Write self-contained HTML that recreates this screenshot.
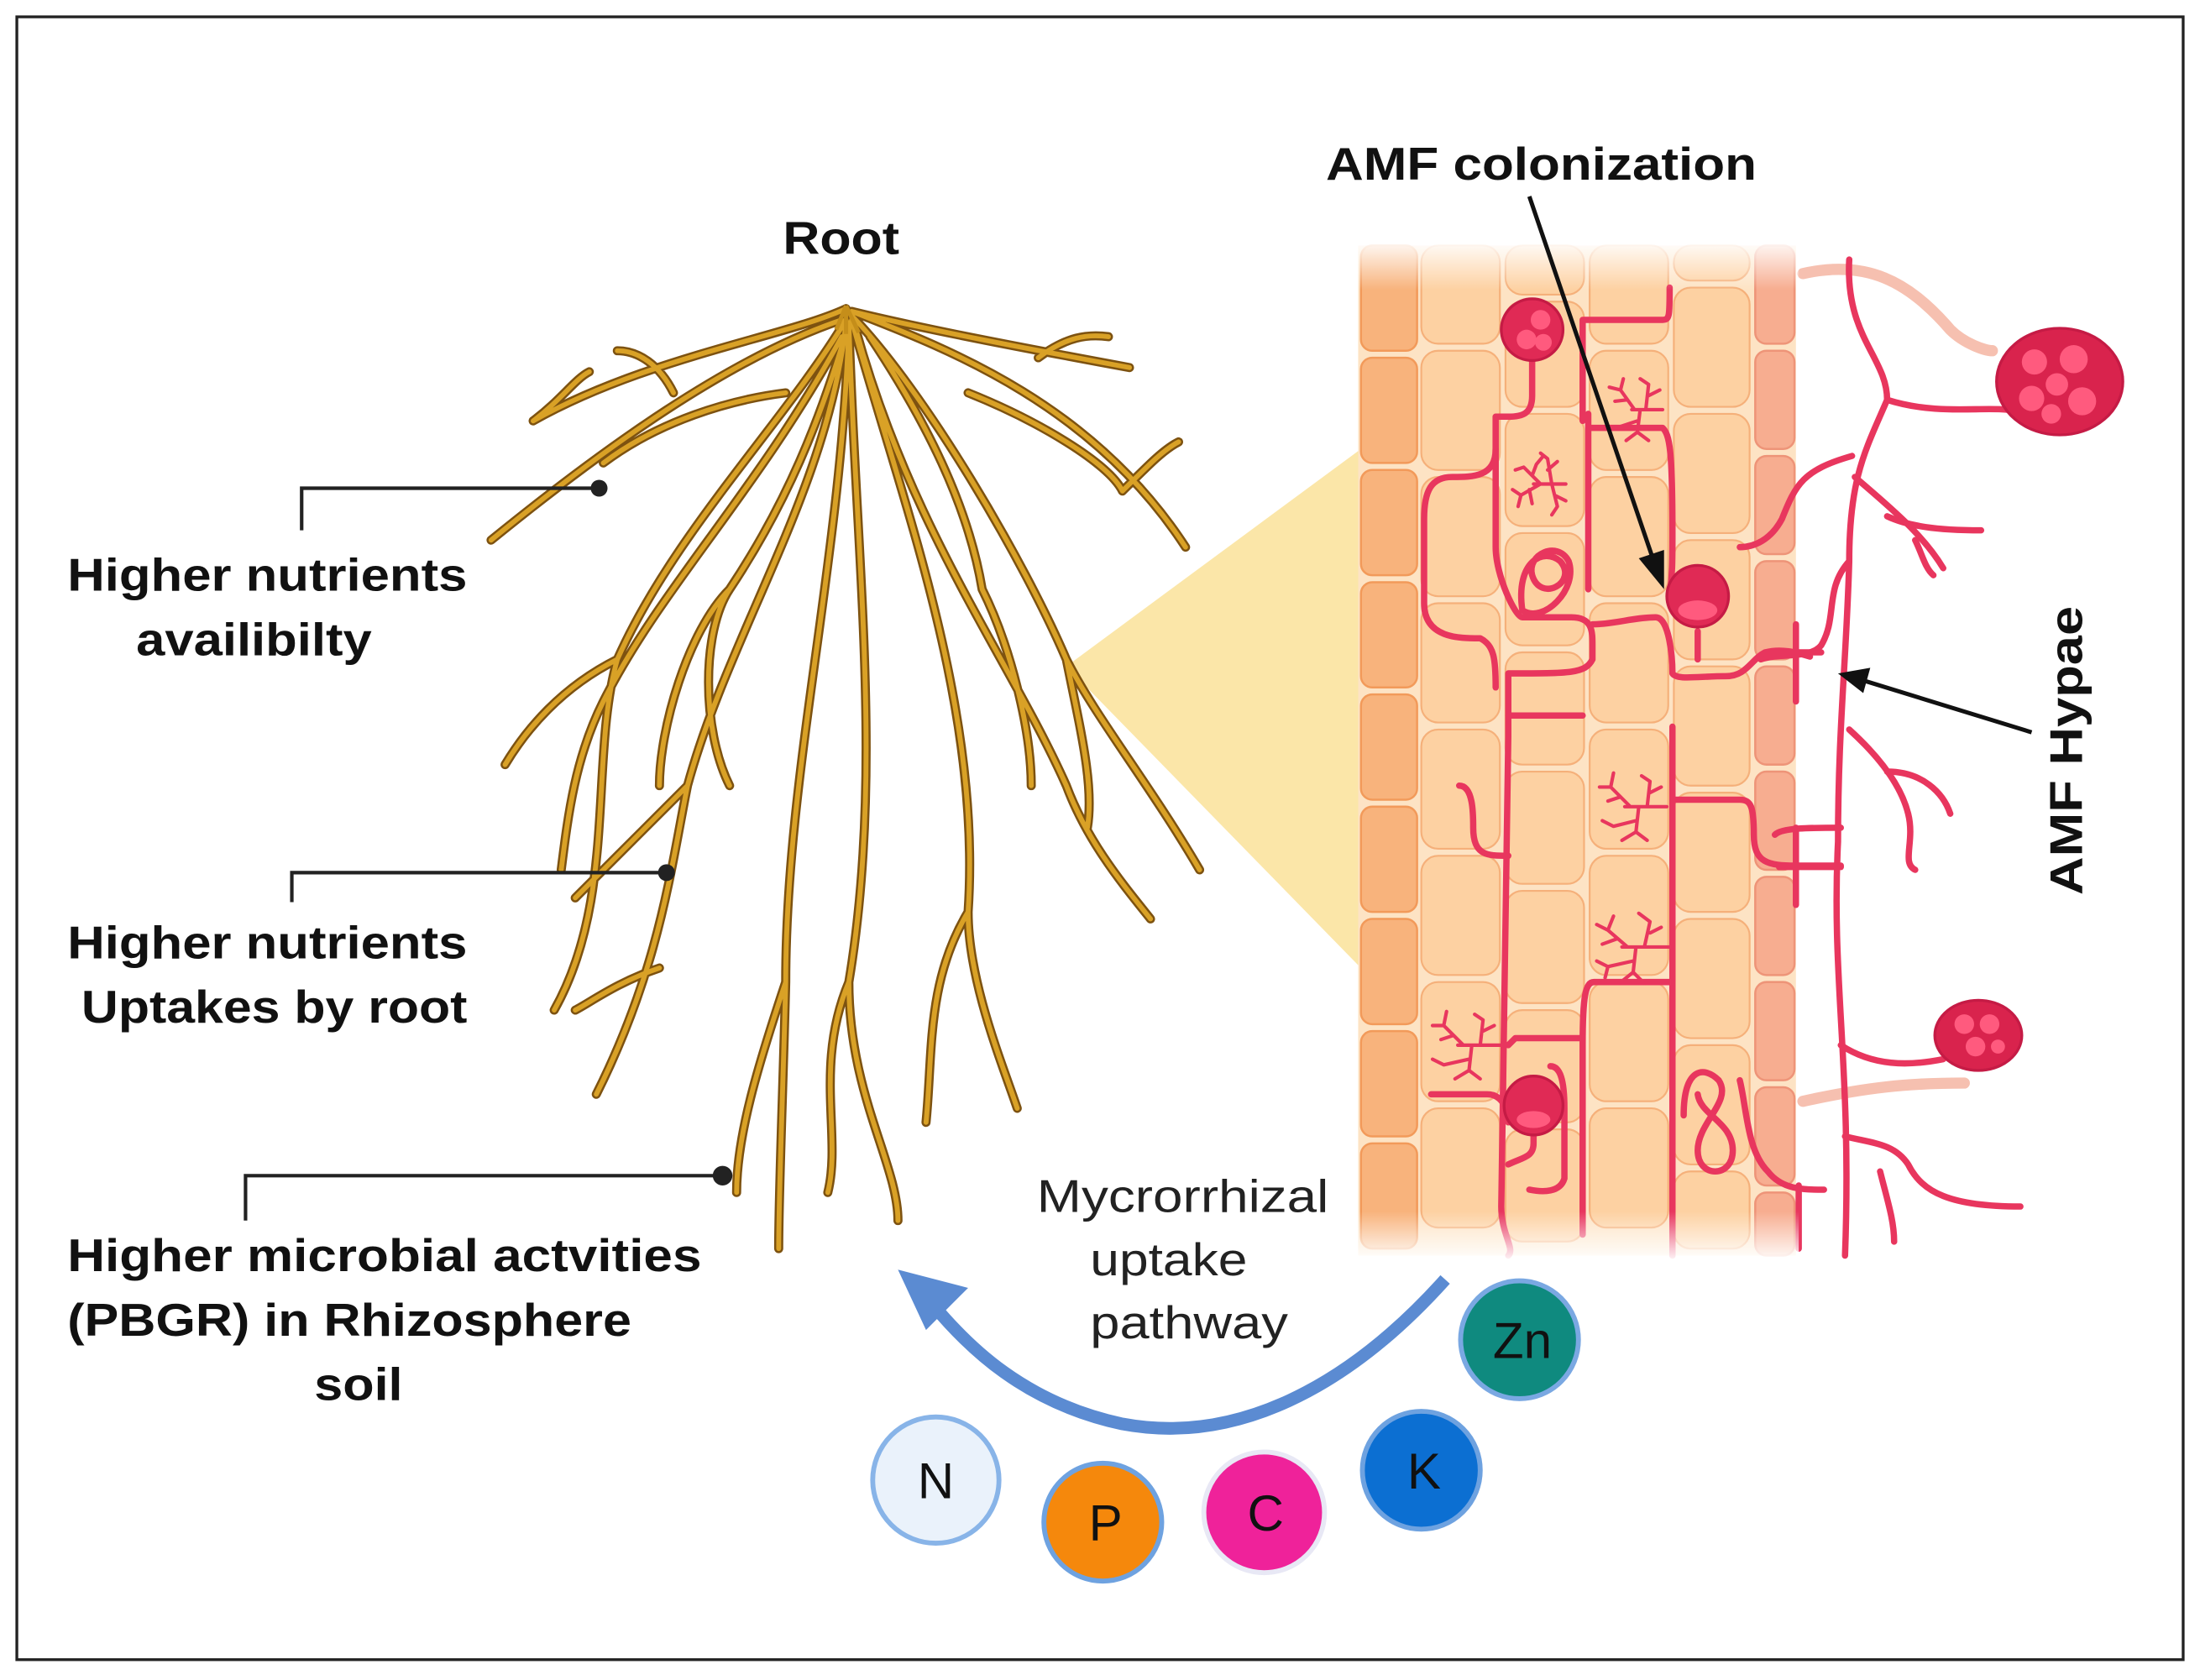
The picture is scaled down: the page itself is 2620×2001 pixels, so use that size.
<!DOCTYPE html>
<html><head><meta charset="utf-8"><style>
html,body{margin:0;padding:0;background:#fff;}
svg{display:block;}
text{font-family:"Liberation Sans",Arial,sans-serif;}
</style></head><body>
<svg width="2620" height="2001" viewBox="0 0 1568 1197.5" preserveAspectRatio="none" xmlns="http://www.w3.org/2000/svg">
<defs>
<linearGradient id="fade" x1="0" y1="0" x2="0" y2="1">
<stop offset="0" stop-color="#fff" stop-opacity="1"/>
<stop offset="0.05" stop-color="#fff" stop-opacity="0"/>
<stop offset="0.95" stop-color="#fff" stop-opacity="0"/>
<stop offset="1" stop-color="#fff" stop-opacity="1"/>
</linearGradient>
</defs>
<rect x="0" y="0" width="1568" height="1197.5" fill="#fff"/>
<rect x="12" y="12" width="1544" height="1171" fill="none" stroke="#222" stroke-width="2"/>

<polygon points="760,475 970,320 970,690" fill="#fbe6a8"/>

<g>
<rect x="968" y="175" width="312" height="720" fill="#fde3c4"/>
<g fill="#f8b37c" stroke="#f29a5a" stroke-width="1.5">
<rect x="970" y="175" width="40" height="75" rx="8"/><rect x="970" y="255" width="40" height="75" rx="8"/><rect x="970" y="335" width="40" height="75" rx="8"/><rect x="970" y="415" width="40" height="75" rx="8"/><rect x="970" y="495" width="40" height="75" rx="8"/><rect x="970" y="575" width="40" height="75" rx="8"/><rect x="970" y="655" width="40" height="75" rx="8"/><rect x="970" y="735" width="40" height="75" rx="8"/><rect x="970" y="815" width="40" height="75" rx="8"/>
</g>
<g fill="#f7ad90" stroke="#ee9478" stroke-width="1.5">
<rect x="1251" y="175" width="28" height="70" rx="8"/><rect x="1251" y="250" width="28" height="70" rx="8"/><rect x="1251" y="325" width="28" height="70" rx="8"/><rect x="1251" y="400" width="28" height="70" rx="8"/><rect x="1251" y="475" width="28" height="70" rx="8"/><rect x="1251" y="550" width="28" height="70" rx="8"/><rect x="1251" y="625" width="28" height="70" rx="8"/><rect x="1251" y="700" width="28" height="70" rx="8"/><rect x="1251" y="775" width="28" height="70" rx="8"/><rect x="1251" y="850" width="28" height="45" rx="8"/>
</g>
<g fill="#fdd1a2" stroke="#f5b07a" stroke-width="1.3">
<rect x="1013" y="175" width="56" height="70" rx="12"/><rect x="1013" y="250" width="56" height="85" rx="12"/><rect x="1013" y="340" width="56" height="85" rx="12"/><rect x="1013" y="430" width="56" height="85" rx="12"/><rect x="1013" y="520" width="56" height="85" rx="12"/><rect x="1013" y="610" width="56" height="85" rx="12"/><rect x="1013" y="700" width="56" height="85" rx="12"/><rect x="1013" y="790" width="56" height="85" rx="12"/>
<rect x="1073" y="175" width="56" height="35" rx="12"/><rect x="1073" y="215" width="56" height="75" rx="12"/><rect x="1073" y="295" width="56" height="80" rx="12"/><rect x="1073" y="380" width="56" height="80" rx="12"/><rect x="1073" y="465" width="56" height="80" rx="12"/><rect x="1073" y="550" width="56" height="80" rx="12"/><rect x="1073" y="635" width="56" height="80" rx="12"/><rect x="1073" y="720" width="56" height="80" rx="12"/><rect x="1073" y="805" width="56" height="80" rx="12"/>
<rect x="1133" y="175" width="56" height="70" rx="12"/><rect x="1133" y="250" width="56" height="85" rx="12"/><rect x="1133" y="340" width="56" height="85" rx="12"/><rect x="1133" y="430" width="56" height="85" rx="12"/><rect x="1133" y="520" width="56" height="85" rx="12"/><rect x="1133" y="610" width="56" height="85" rx="12"/><rect x="1133" y="700" width="56" height="85" rx="12"/><rect x="1133" y="790" width="56" height="85" rx="12"/>
<rect x="1193" y="175" width="54" height="25" rx="12"/><rect x="1193" y="205" width="54" height="85" rx="12"/><rect x="1193" y="295" width="54" height="85" rx="12"/><rect x="1193" y="385" width="54" height="85" rx="12"/><rect x="1193" y="475" width="54" height="85" rx="12"/><rect x="1193" y="565" width="54" height="85" rx="12"/><rect x="1193" y="655" width="54" height="85" rx="12"/><rect x="1193" y="745" width="54" height="85" rx="12"/><rect x="1193" y="835" width="54" height="55" rx="12"/>
</g>
</g>

<g stroke="#f6c0b0" stroke-width="8" fill="none" stroke-linecap="round">
<path d="M1285,195 C1330,185 1360,200 1390,235 C1400,245 1415,250 1420,250"/>
<path d="M1285,785 C1330,775 1360,772 1400,772"/>
</g>

<g stroke="#e8365e" stroke-width="4.5" fill="none" stroke-linecap="round" stroke-linejoin="round">
<path d="M1318,185 C1315,240 1345,255 1345,285 C1330,320 1318,340 1318,400 C1316,470 1310,520 1310,600 C1305,700 1320,760 1315,895"/>
<path d="M1345,285 C1380,296 1410,290 1430,292"/>
<path d="M1320,325 C1285,335 1280,345 1270,370 C1262,385 1250,390 1240,390"/>
<path d="M1322,340 C1345,360 1370,380 1385,405"/>
<path d="M1345,368 C1360,375 1380,378 1412,378"/>
<path d="M1365,385 C1370,395 1372,405 1378,410"/>
<path d="M1318,400 C1300,420 1310,440 1298,460 C1290,470 1270,465 1255,470"/>
<path d="M1318,520 C1340,540 1355,560 1360,580 C1365,600 1355,615 1365,620"/>
<path d="M1345,550 C1370,550 1385,565 1390,580"/>
<path d="M1312,590 C1290,590 1270,590 1265,595"/>
<path d="M1312,745 C1335,760 1360,760 1385,755"/>
<path d="M1315,810 C1335,815 1350,815 1360,830 C1370,850 1390,860 1440,860"/>
<path d="M1340,835 C1345,855 1350,870 1350,885"/>
<path d="M1280,445 L1280,500 M1270,465 L1298,465"/>
<path d="M1280,590 L1280,645 M1268,618 L1312,618"/>
<path d="M1282,845 L1282,890"/>
<path d="M1092,255 L1092,282 C1092,295 1085,297 1075,297 L1066,297 L1066,320 C1066,340 1050,340 1035,340 C1020,340 1015,350 1015,370 L1015,430 C1015,455 1040,455 1055,455 C1065,460 1066,470 1066,490"/>
<path d="M1066,320 L1066,390 C1066,410 1080,440 1085,440 L1120,440 C1135,440 1135,450 1135,460 L1135,470 C1130,480 1120,480 1075,480 L1075,525 C1075,540 1075,560 1070,860 C1070,880 1080,890 1075,895"/>
<path d="M1128,228 L1128,300 M1128,228 L1185,228 C1190,228 1190,225 1190,205"/>
<path d="M1132,295 L1132,420 M1132,305 L1185,305 C1190,310 1192,320 1192,380 C1192,400 1192,410 1190,425"/>
<path d="M1135,445 C1150,445 1165,440 1180,440 C1190,440 1192,470 1192,480 C1195,485 1210,482 1230,482 C1245,482 1248,470 1258,465 C1270,462 1280,465 1290,468"/>
<path d="M1210,450 L1210,470"/>
<path d="M1192,518 L1192,895"/>
<path d="M1192,570 L1240,570 C1248,570 1250,575 1250,595 C1250,615 1260,617 1280,617 L1312,617"/>
<path d="M1075,510 L1120,510 L1128,510"/>
<path d="M1040,560 C1050,560 1050,580 1050,590 C1050,610 1060,610 1075,610"/>
<path d="M1192,700 L1136,700 C1130,700 1128,710 1128,745 L1128,880 M1128,740 L1080,740 L1075,745"/>
<path d="M1020,780 L1060,780 C1070,780 1075,790 1075,800"/>
<path d="M1093,805 L1093,815 C1093,825 1085,825 1075,830"/>
<path d="M1105,760 C1112,760 1115,770 1115,790 L1115,840 C1112,850 1100,850 1090,848"/>
<path d="M1240,770 C1245,790 1245,820 1260,835 C1270,848 1285,848 1300,848"/>
<path d="M1085,435 C1080,400 1100,390 1112,400 C1125,415 1098,430 1092,410 C1088,395 1110,385 1118,400 C1125,420 1100,445 1085,435"/>
<path d="M1200,795 C1200,760 1215,760 1225,770 C1235,785 1210,800 1210,820 C1210,840 1235,840 1235,820 C1235,800 1212,795 1210,780"/>
</g>
<g stroke="#e8365e" stroke-width="2.5" fill="none" stroke-linecap="round">
<g transform="translate(1098,345)"><path d="M18,0 L-5,0 M0,0 L-12,-12 M-6,-6 L-3,-14 M-12,-12 L-18,-10 M0,0 L-14,8 M-8,4 L-6,14 M-14,8 L-20,4 M-14,8 L-16,16 M8,0 L5,-18 M5,-10 L12,-16 M5,-18 L0,-22 M8,0 L12,16 M10,8 L18,12 M12,16 L8,22 M-3,-14 L2,-20"/></g>
<g transform="translate(1165,290)"><path d="M20,2 L-2,2 M0,2 L-10,-12 M-5,-5 L-14,-4 M-10,-12 L-8,-20 M-10,-12 L-18,-14 M4,2 L2,18 M2,10 L-10,14 M2,18 L-6,24 M2,18 L10,24 M8,2 L10,-16 M10,-8 L18,-12 M10,-16 L4,-20"/></g>
<g transform="translate(1162,575)"><path d="M26,0 L-4,0 M0,0 L-14,-14 M-7,-7 L-16,-4 M-14,-14 L-12,-24 M-14,-14 L-22,-14 M6,0 L4,18 M4,10 L-12,14 M4,18 L-6,24 M4,18 L12,24 M12,0 L14,-18 M14,-10 L22,-14 M14,-18 L8,-22 M-12,14 L-20,10"/></g>
<g transform="translate(1160,675)"><path d="M30,0 L-4,0 M0,0 L-14,-12 M-7,-6 L-18,-2 M-14,-12 L-10,-22 M-14,-12 L-22,-16 M6,0 L4,18 M4,10 L-14,14 M4,18 L-6,26 M4,18 L12,26 M12,0 L16,-18 M16,-10 L24,-14 M16,-18 L8,-24 M-14,14 L-22,10 M-14,14 L-16,22"/></g>
<g transform="translate(1043,745)"><path d="M28,0 L-4,0 M0,0 L-14,-14 M-7,-7 L-16,-4 M-14,-14 L-12,-24 M-14,-14 L-22,-14 M6,0 L4,18 M4,10 L-14,14 M4,18 L-6,24 M4,18 L12,24 M12,0 L14,-18 M14,-10 L22,-14 M14,-18 L8,-22 M-14,14 L-22,10"/></g>
</g>
<g stroke="#c51b45" stroke-width="2">
<circle cx="1092" cy="235" r="22" fill="#e02a55"/>
<circle cx="1210" cy="425" r="22" fill="#e02a55"/>
<circle cx="1093" cy="788" r="21" fill="#e02a55"/>
<ellipse cx="1468" cy="272" rx="45" ry="38" fill="#d9234d"/>
<ellipse cx="1410" cy="738" rx="31" ry="25" fill="#d9234d"/>
</g>
<g fill="#ff5a7e">
<circle cx="1098" cy="228" r="7"/><circle cx="1088" cy="242" r="7"/><circle cx="1100" cy="244" r="6"/>
<ellipse cx="1210" cy="435" rx="14" ry="7"/><ellipse cx="1093" cy="798" rx="12" ry="6"/>
<circle cx="1450" cy="258" r="9"/><circle cx="1478" cy="256" r="10"/><circle cx="1466" cy="274" r="8"/><circle cx="1448" cy="284" r="9"/><circle cx="1484" cy="286" r="10"/><circle cx="1462" cy="295" r="7"/>
<circle cx="1400" cy="730" r="7"/><circle cx="1418" cy="730" r="7"/><circle cx="1408" cy="746" r="7"/><circle cx="1424" cy="746" r="5"/>
</g>
<rect x="966" y="170" width="316" height="730" fill="url(#fade)"/>

<!-- root -->
<g stroke="#7d5210" stroke-width="6.5" fill="none" stroke-linecap="round">
<path id="r" d="M603,220 C560,240 460,255 380,300 M600,228 C520,255 430,320 350,385 M603,228 C560,300 480,380 440,470 C420,540 440,640 395,720 M603,230 C590,350 520,450 490,560 C478,620 470,690 425,780 M605,230 C600,400 560,550 560,700 C558,780 555,850 555,890 M605,230 C610,400 630,550 605,700 C605,780 640,830 640,870 M607,228 C640,350 700,500 690,650 C690,700 715,760 725,790 M607,225 C660,280 730,400 760,470 C780,510 820,560 855,620 M607,222 C680,250 780,290 845,390 M607,222 C660,235 740,250 805,262 M610,235 C650,380 720,470 760,560 C775,600 800,630 820,655 M600,240 C540,350 470,420 430,500 C410,540 405,580 400,620 M440,470 C400,490 375,520 360,545 M490,560 C460,590 430,620 410,640 M605,230 C585,300 560,360 520,420 C500,450 500,520 520,560 M620,240 C660,300 690,360 700,420 M520,420 C490,450 470,520 470,560 M700,420 C720,460 735,520 735,560 M430,330 C470,300 520,285 560,280 M690,280 C740,300 790,330 800,350 M560,700 C540,760 525,810 525,850 M605,700 C580,760 600,810 590,850 M690,650 C660,700 665,750 660,800 M760,470 C770,520 780,560 775,590 M380,300 C400,285 410,270 420,265 M480,280 C470,260 455,250 440,250 M740,255 C760,240 775,238 790,240 M800,350 C820,330 830,320 840,315 M470,690 C440,700 420,715 410,720"/>
</g>
<g stroke="#d9a126" stroke-width="3.5" fill="none" stroke-linecap="round">
<use href="#r"/>
</g>
<g stroke="#c58e1a" stroke-width="3" fill="none">
<path d="M603,218 L596,235 M603,218 L612,237 M603,218 L603,238"/>
</g>

<g font-weight="bold" font-size="33" fill="#111">
<text x="558" y="181" textLength="83" lengthAdjust="spacingAndGlyphs">Root</text>
<text x="945" y="128" textLength="307" lengthAdjust="spacingAndGlyphs">AMF colonization</text>
<text x="48" y="421" textLength="285" lengthAdjust="spacingAndGlyphs">Higher nutrients</text>
<text x="97" y="467" textLength="168" lengthAdjust="spacingAndGlyphs">availibilty</text>
<text x="48" y="683" textLength="285" lengthAdjust="spacingAndGlyphs">Higher nutrients</text>
<text x="58" y="729" textLength="275" lengthAdjust="spacingAndGlyphs">Uptakes by root</text>
<text x="48" y="906" textLength="452" lengthAdjust="spacingAndGlyphs">Higher microbial actvities</text>
<text x="48" y="952" textLength="402" lengthAdjust="spacingAndGlyphs">(PBGR) in Rhizosphere</text>
<text x="224" y="998" textLength="63" lengthAdjust="spacingAndGlyphs">soil</text>
<text transform="translate(1484,638) rotate(-90)" textLength="206" lengthAdjust="spacingAndGlyphs">AMF Hypae</text>
</g>
<g font-size="33" fill="#222">
<text x="739" y="864" textLength="208" lengthAdjust="spacingAndGlyphs">Mycrorrhizal</text>
<text x="777" y="909" textLength="112" lengthAdjust="spacingAndGlyphs">uptake</text>
<text x="777" y="954" textLength="141" lengthAdjust="spacingAndGlyphs">pathway</text>
</g>

<g stroke="#222" stroke-width="2.5" fill="none">
<path d="M215,378 L215,348 L427,348"/>
<path d="M208,643 L208,622 L475,622"/>
<path d="M175,870 L175,838 L515,838"/>
</g>
<g fill="#222">
<circle cx="427" cy="348" r="6"/><circle cx="475" cy="622" r="6"/><circle cx="515" cy="838" r="7"/>
</g>
<g stroke="#111" stroke-width="3" fill="none">
<line x1="1090" y1="140" x2="1178" y2="398"/>
<line x1="1448" y1="522" x2="1328" y2="485"/>
</g>
<polygon points="1186,420 1168,398 1186,392" fill="#111"/>
<polygon points="1310,480 1333,476 1328,494" fill="#111"/>

<path d="M1030,912 C960,990 880,1030 800,1015 C730,1000 690,960 665,930" stroke="#5b8bd2" stroke-width="9" fill="none"/>
<polygon points="640,905 690,918 660,948" fill="#5b8bd2"/>

<g stroke-width="3.5">
<circle cx="667" cy="1055" r="45" fill="#eaf2fb" stroke="#88b4e8"/>
<circle cx="786" cy="1085" r="42" fill="#f5880c" stroke="#6ea2e0"/>
<circle cx="901" cy="1078" r="43" fill="#ef229a" stroke="#e8e8f5"/>
<circle cx="1013" cy="1048" r="42" fill="#0c6fd2" stroke="#6ea2e0"/>
<circle cx="1083" cy="955" r="42" fill="#0f8a7f" stroke="#7aa8e2"/>
</g>
<g font-size="36" fill="#111" text-anchor="middle">
<text x="667" y="1068">N</text>
<text x="788" y="1098">P</text>
<text x="902" y="1091">C</text>
<text x="1015" y="1061">K</text>
<text x="1085" y="968">Zn</text>
</g>
</svg>
</body></html>
